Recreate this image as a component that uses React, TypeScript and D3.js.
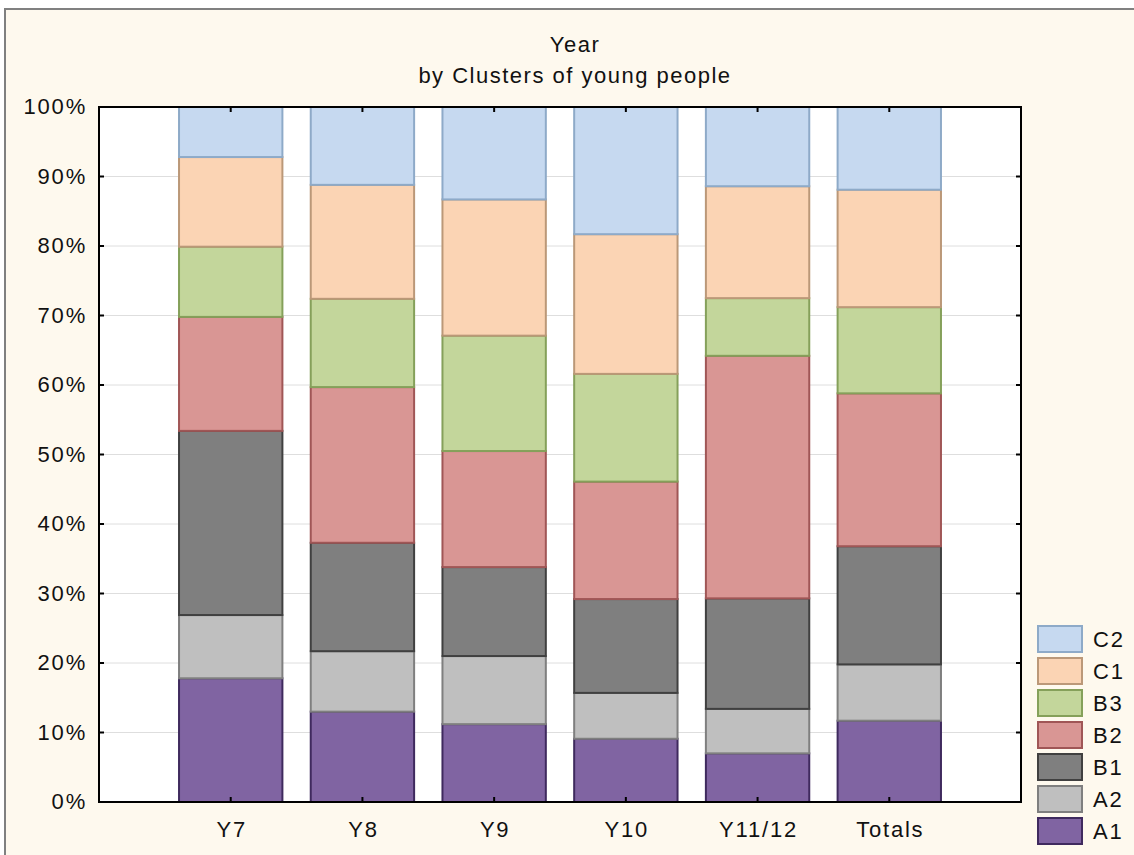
import * as d3 from "d3";

const categories = ["Y7", "Y8", "Y9", "Y10", "Y11/12", "Totals"];
const seriesKeys = ["A1", "A2", "B1", "B2", "B3", "C1", "C2"];
const a1 = [17.8, 13.0, 11.2, 9.1, 7.0, 11.7];
const a2 = [9.1, 8.7, 9.8, 6.6, 6.4, 8.1];
const b1 = [26.5, 15.6, 12.8, 13.5, 15.9, 17.0];
const b2 = [16.4, 22.4, 16.7, 16.9, 34.9, 22.0];
const b3 = [10.1, 12.7, 16.6, 15.5, 8.3, 12.4];
const c1 = [12.9, 16.4, 19.6, 20.1, 16.1, 16.9];
const c2 = [7.2, 11.2, 13.3, 18.3, 11.4, 11.9];
const yTicks = [0, 10, 20, 30, 40, 50, 60, 70, 80, 90, 100];

const fills: Record<string, string> = {
  A1: "#8064a2", A2: "#bfbfbf", B1: "#7f7f7f", B2: "#d99694",
  B3: "#c3d69b", C1: "#fbd4b4", C2: "#c6d9f0",
};
const strokes: Record<string, string> = {
  A1: "#3f2a5e", A2: "#7f7f7f", B1: "#404040", B2: "#a05656",
  B3: "#85a05a", C1: "#bb9878", C2: "#8eaac8",
};

const values: Record<string, number[]> = { A1: a1, A2: a2, B1: b1, B2: b2, B3: b3, C1: c1, C2: c2 };
const rows = categories.map((cat, i) => {
  const r: any = { cat };
  seriesKeys.forEach((k) => (r[k] = values[k][i]));
  return r;
});

export default function App() {
  const W = 1134, H = 855;
  const left = 99, right = 1021, top = 107, bottom = 802;

  const x = d3.scaleBand().domain(categories).range([left, right])
    .paddingInner(0.2).paddingOuter(0.6);
  const y = d3.scaleLinear().domain([0, 100]).range([bottom, top]);
  const stacked = d3.stack<any>().keys(seriesKeys)(rows);
  const font = "'Liberation Sans', Arial, sans-serif";
  const legendKeys = [...seriesKeys].reverse();
  const ls = 1.8;

  return (
    <svg width={W} height={H} style={{ position: "absolute", left: 0, top: 0 }}
      fontFamily={font} fontSize={22} fill="#111">
      <rect x={0} y={0} width={W} height={H} fill="#ffffff" />
      <rect x={5} y={9} width={W} height={H} fill="#fef9ee" stroke="#808080" strokeWidth={2} />
      <text x={575} y={52} textAnchor="middle" letterSpacing={1.5}>Year</text>
      <text x={575} y={83} textAnchor="middle" letterSpacing={1.5}>
        by Clusters of young people
      </text>

      <rect x={left} y={top} width={right - left} height={bottom - top} fill="#fff" />
      {yTicks.filter((t) => t > 0 && t < 100).map((t) => (
        <line key={t} x1={left} x2={right} y1={y(t)} y2={y(t)} stroke="#dedede" strokeWidth={1} />
      ))}

      {stacked.map((s) => (
        <g key={s.key}>
          {s.map((d, i) => (
            <rect key={i} x={x(categories[i])! + 1} y={y(d[1])}
              width={x.bandwidth() - 2} height={y(d[0]) - y(d[1])}
              fill={fills[s.key]} stroke={strokes[s.key]} strokeWidth={2} />
          ))}
        </g>
      ))}

      <rect x={left} y={top} width={right - left} height={bottom - top} fill="none" stroke="#000" strokeWidth={2} />
      {yTicks.map((t) => (
        <g key={t}>
          <line x1={left} x2={left + 5} y1={y(t)} y2={y(t)} stroke="#000" strokeWidth={2} />
          <line x1={right - 5} x2={right} y1={y(t)} y2={y(t)} stroke="#000" strokeWidth={2} />
          <text x={87} y={y(t) + 7} textAnchor="end" letterSpacing={ls}>{t}%</text>
        </g>
      ))}
      {categories.map((c) => {
        const cx = x(c)! + x.bandwidth() / 2;
        return (
          <g key={c}>
            <line x1={cx} x2={cx} y1={bottom} y2={bottom - 5} stroke="#000" strokeWidth={2} />
            <line x1={cx} x2={cx} y1={top} y2={top + 5} stroke="#000" strokeWidth={2} />
            <text x={cx + 1} y={837} textAnchor="middle" letterSpacing={ls}>{c}</text>
          </g>
        );
      })}

      {legendKeys.map((k, i) => (
        <g key={k} transform={`translate(1038,${626 + i * 32})`}>
          <rect x={0} y={0} width={44} height={26} fill={fills[k]} stroke={strokes[k]} strokeWidth={2} />
          <text x={55} y={21} letterSpacing={ls}>{k}</text>
        </g>
      ))}
    </svg>
  );
}
